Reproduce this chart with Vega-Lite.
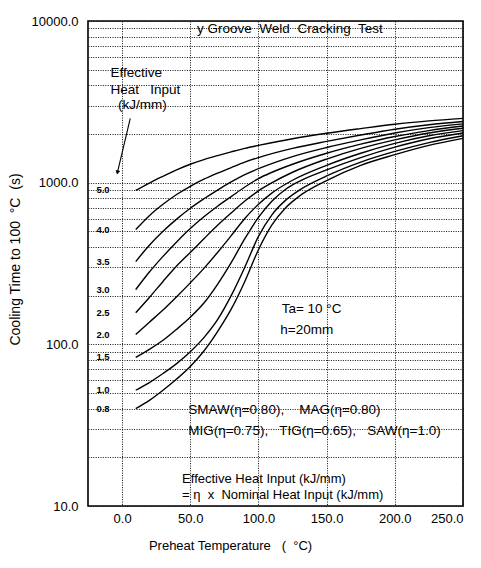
{
  "$schema": "https://vega.github.io/schema/vega-lite/v6.json",
  "width": 375,
  "height": 485,
  "autosize": {"type": "none"},
  "padding": {"left": 88, "top": 21, "right": 18, "bottom": 62},
  "background": "white",
  "config": {
    "font": "Liberation Sans",
    "view": {"stroke": "black", "strokeWidth": 1.6},
    "axis": {"domain": false, "ticks": false, "labelColor": "black", "titleColor": "black", "labelFontSize": 13, "titleFontSize": 13, "titleFontWeight": "normal", "gridColor": "#111111", "gridDash": [1, 1.4], "gridOpacity": 1, "gridWidth": 1}
  },
  "datasets": {
    "curves": [
      {"q": "5.0", "t": 10, "v": 895}, {"q": "5.0", "t": 20, "v": 995}, {"q": "5.0", "t": 30, "v": 1095}, {"q": "5.0", "t": 40, "v": 1200}, {"q": "5.0", "t": 50, "v": 1300}, {"q": "5.0", "t": 60, "v": 1390}, {"q": "5.0", "t": 70, "v": 1470}, {"q": "5.0", "t": 80, "v": 1550}, {"q": "5.0", "t": 90, "v": 1630}, {"q": "5.0", "t": 100, "v": 1700}, {"q": "5.0", "t": 125, "v": 1870}, {"q": "5.0", "t": 150, "v": 2020}, {"q": "5.0", "t": 175, "v": 2160}, {"q": "5.0", "t": 200, "v": 2300}, {"q": "5.0", "t": 225, "v": 2410}, {"q": "5.0", "t": 250, "v": 2500},
      {"q": "4.0", "t": 10, "v": 513}, {"q": "4.0", "t": 20, "v": 625}, {"q": "4.0", "t": 30, "v": 735}, {"q": "4.0", "t": 40, "v": 845}, {"q": "4.0", "t": 50, "v": 950}, {"q": "4.0", "t": 60, "v": 1050}, {"q": "4.0", "t": 70, "v": 1145}, {"q": "4.0", "t": 80, "v": 1240}, {"q": "4.0", "t": 90, "v": 1340}, {"q": "4.0", "t": 100, "v": 1430}, {"q": "4.0", "t": 125, "v": 1630}, {"q": "4.0", "t": 150, "v": 1800}, {"q": "4.0", "t": 175, "v": 1970}, {"q": "4.0", "t": 200, "v": 2140}, {"q": "4.0", "t": 225, "v": 2280}, {"q": "4.0", "t": 250, "v": 2390},
      {"q": "3.5", "t": 10, "v": 325}, {"q": "3.5", "t": 20, "v": 410}, {"q": "3.5", "t": 30, "v": 500}, {"q": "3.5", "t": 40, "v": 595}, {"q": "3.5", "t": 50, "v": 695}, {"q": "3.5", "t": 60, "v": 795}, {"q": "3.5", "t": 70, "v": 900}, {"q": "3.5", "t": 80, "v": 1010}, {"q": "3.5", "t": 90, "v": 1120}, {"q": "3.5", "t": 100, "v": 1220}, {"q": "3.5", "t": 125, "v": 1450}, {"q": "3.5", "t": 150, "v": 1650}, {"q": "3.5", "t": 175, "v": 1840}, {"q": "3.5", "t": 200, "v": 2030}, {"q": "3.5", "t": 225, "v": 2190}, {"q": "3.5", "t": 250, "v": 2310},
      {"q": "3.0", "t": 10, "v": 218}, {"q": "3.0", "t": 20, "v": 280}, {"q": "3.0", "t": 30, "v": 350}, {"q": "3.0", "t": 40, "v": 430}, {"q": "3.0", "t": 50, "v": 520}, {"q": "3.0", "t": 60, "v": 615}, {"q": "3.0", "t": 70, "v": 715}, {"q": "3.0", "t": 80, "v": 820}, {"q": "3.0", "t": 90, "v": 940}, {"q": "3.0", "t": 100, "v": 1060}, {"q": "3.0", "t": 110, "v": 1160}, {"q": "3.0", "t": 125, "v": 1300}, {"q": "3.0", "t": 150, "v": 1520}, {"q": "3.0", "t": 175, "v": 1730}, {"q": "3.0", "t": 200, "v": 1930}, {"q": "3.0", "t": 225, "v": 2100}, {"q": "3.0", "t": 250, "v": 2240},
      {"q": "2.5", "t": 10, "v": 157}, {"q": "2.5", "t": 20, "v": 195}, {"q": "2.5", "t": 30, "v": 245}, {"q": "2.5", "t": 40, "v": 305}, {"q": "2.5", "t": 50, "v": 370}, {"q": "2.5", "t": 60, "v": 450}, {"q": "2.5", "t": 70, "v": 545}, {"q": "2.5", "t": 80, "v": 650}, {"q": "2.5", "t": 90, "v": 770}, {"q": "2.5", "t": 100, "v": 890}, {"q": "2.5", "t": 110, "v": 1000}, {"q": "2.5", "t": 125, "v": 1160}, {"q": "2.5", "t": 150, "v": 1400}, {"q": "2.5", "t": 175, "v": 1630}, {"q": "2.5", "t": 200, "v": 1840}, {"q": "2.5", "t": 225, "v": 2030}, {"q": "2.5", "t": 250, "v": 2170},
      {"q": "2.0", "t": 10, "v": 115}, {"q": "2.0", "t": 20, "v": 137}, {"q": "2.0", "t": 30, "v": 163}, {"q": "2.0", "t": 40, "v": 197}, {"q": "2.0", "t": 50, "v": 240}, {"q": "2.0", "t": 60, "v": 295}, {"q": "2.0", "t": 70, "v": 370}, {"q": "2.0", "t": 80, "v": 470}, {"q": "2.0", "t": 90, "v": 600}, {"q": "2.0", "t": 100, "v": 735}, {"q": "2.0", "t": 110, "v": 865}, {"q": "2.0", "t": 125, "v": 1035}, {"q": "2.0", "t": 150, "v": 1280}, {"q": "2.0", "t": 175, "v": 1520}, {"q": "2.0", "t": 200, "v": 1750}, {"q": "2.0", "t": 225, "v": 1950}, {"q": "2.0", "t": 250, "v": 2100},
      {"q": "1.5", "t": 10, "v": 83}, {"q": "1.5", "t": 20, "v": 93}, {"q": "1.5", "t": 30, "v": 106}, {"q": "1.5", "t": 40, "v": 124}, {"q": "1.5", "t": 50, "v": 147}, {"q": "1.5", "t": 60, "v": 180}, {"q": "1.5", "t": 70, "v": 235}, {"q": "1.5", "t": 80, "v": 320}, {"q": "1.5", "t": 90, "v": 450}, {"q": "1.5", "t": 100, "v": 610}, {"q": "1.5", "t": 110, "v": 770}, {"q": "1.5", "t": 120, "v": 910}, {"q": "1.5", "t": 130, "v": 1020}, {"q": "1.5", "t": 150, "v": 1200}, {"q": "1.5", "t": 175, "v": 1430}, {"q": "1.5", "t": 200, "v": 1660}, {"q": "1.5", "t": 225, "v": 1870}, {"q": "1.5", "t": 250, "v": 2030},
      {"q": "1.0", "t": 10, "v": 52}, {"q": "1.0", "t": 20, "v": 58}, {"q": "1.0", "t": 30, "v": 66}, {"q": "1.0", "t": 40, "v": 76}, {"q": "1.0", "t": 50, "v": 90}, {"q": "1.0", "t": 60, "v": 110}, {"q": "1.0", "t": 70, "v": 142}, {"q": "1.0", "t": 80, "v": 200}, {"q": "1.0", "t": 90, "v": 300}, {"q": "1.0", "t": 100, "v": 465}, {"q": "1.0", "t": 110, "v": 635}, {"q": "1.0", "t": 120, "v": 780}, {"q": "1.0", "t": 130, "v": 900}, {"q": "1.0", "t": 150, "v": 1100}, {"q": "1.0", "t": 175, "v": 1340}, {"q": "1.0", "t": 200, "v": 1560}, {"q": "1.0", "t": 225, "v": 1770}, {"q": "1.0", "t": 250, "v": 1950},
      {"q": "0.8", "t": 10, "v": 40}, {"q": "0.8", "t": 20, "v": 45}, {"q": "0.8", "t": 30, "v": 52}, {"q": "0.8", "t": 40, "v": 61}, {"q": "0.8", "t": 50, "v": 73}, {"q": "0.8", "t": 60, "v": 91}, {"q": "0.8", "t": 70, "v": 120}, {"q": "0.8", "t": 80, "v": 165}, {"q": "0.8", "t": 90, "v": 245}, {"q": "0.8", "t": 100, "v": 385}, {"q": "0.8", "t": 110, "v": 550}, {"q": "0.8", "t": 120, "v": 700}, {"q": "0.8", "t": 130, "v": 825}, {"q": "0.8", "t": 150, "v": 1030}, {"q": "0.8", "t": 175, "v": 1280}, {"q": "0.8", "t": 200, "v": 1490}, {"q": "0.8", "t": 225, "v": 1700}, {"q": "0.8", "t": 250, "v": 1880}
    ],
    "qlabels": [
      {"t": -14, "v": 895, "label": "5.0"}, {"t": -14, "v": 513, "label": "4.0"}, {"t": -14, "v": 325, "label": "3.5"},
      {"t": -14, "v": 218, "label": "3.0"}, {"t": -14, "v": 157, "label": "2.5"}, {"t": -14, "v": 115, "label": "2.0"},
      {"t": -14, "v": 83, "label": "1.5"}, {"t": -14, "v": 52, "label": "1.0"}, {"t": -14, "v": 40, "label": "0.8"}
    ],
    "notes": [
      {"t": 55, "v": 8900, "label": "y Groove\u00a0 Weld\u00a0 Cracking\u00a0 Test"},
      {"t": -8.5, "v": 4745, "label": "Effective"},
      {"t": -8.5, "v": 3724, "label": "Heat\u00a0\u00a0 Input"},
      {"t": -3, "v": 3006, "label": "(kJ/mm)"},
      {"t": 117, "v": 166, "label": "Ta= 10 °C"},
      {"t": 116, "v": 122, "label": "h=20mm"},
      {"t": 48.5, "v": 39, "label": "SMAW(η=0.80),\u00a0\u00a0\u00a0 MAG(η=0.80)"},
      {"t": 48.5, "v": 29, "label": "MIG(η=0.75),\u00a0\u00a0 TIG(η=0.65),\u00a0\u00a0 SAW(η=1.0)"}
    ],
    "notes2": [
      {"t": 44, "v": 14.7, "label": "Effective Heat Input (kJ/mm)"},
      {"t": 44, "v": 11.7, "label": "= η\u00a0 x\u00a0 Nominal Heat Input (kJ/mm)"}
    ],
    "arrow": [{"t": 6, "v": 2495, "t2": -3.4, "v2": 1156}]
  },
  "encoding": {
    "x": {"field": "t", "type": "quantitative", "scale": {"domain": [-25, 250], "nice": false, "zero": false},
      "axis": {"title": "Preheat Temperature\u00a0\u00a0 (\u00a0 °C)", "values": [0, 50, 100, 150, 200, 250], "format": ".1f", "grid": true, "labelPadding": 6, "titleX": 142, "titleY": 33}},
    "y": {"field": "v", "type": "quantitative", "scale": {"type": "log", "domain": [10, 10000], "nice": false},
      "axis": {"title": "Cooling Time to 100\u00a0 °C\u00a0 (s)", "titleFontSize": 14, "values": [10, 20, 30, 40, 50, 60, 70, 80, 90, 100, 200, 300, 400, 500, 600, 700, 800, 900, 1000, 2000, 3000, 4000, 5000, 6000, 7000, 8000, 9000, 10000],
        "labelExpr": "datum.value == 10 || datum.value == 100 || datum.value == 1000 || datum.value == 10000 ? format(datum.value, '.1f') : ''",
        "grid": true, "labelPadding": 10, "titleX": -66, "titleY": 238}}
  },
  "layer": [
    {"data": {"name": "curves"}, "mark": {"type": "line", "color": "black", "strokeWidth": 1.4, "interpolate": "monotone"},
      "encoding": {"detail": {"field": "q"}}},
    {"data": {"name": "qlabels"}, "mark": {"type": "text", "fontSize": 9.5, "fontWeight": "bold", "align": "center", "baseline": "middle", "color": "black"},
      "encoding": {"text": {"field": "label"}}},
    {"data": {"name": "notes"}, "mark": {"type": "text", "fontSize": 13.5, "align": "left", "baseline": "middle", "color": "black"},
      "encoding": {"text": {"field": "label"}}},
    {"data": {"name": "notes2"}, "mark": {"type": "text", "fontSize": 13, "align": "left", "baseline": "middle", "color": "black"},
      "encoding": {"text": {"field": "label"}}},
    {"data": {"name": "arrow"}, "mark": {"type": "rule", "color": "black", "strokeWidth": 1.1},
      "encoding": {"x2": {"field": "t2"}, "y2": {"field": "v2"}}},
    {"data": {"name": "arrow"}, "mark": {"type": "point", "shape": "triangle-down", "filled": true, "color": "black", "size": 22, "angle": 13.5, "opacity": 1},
      "encoding": {"x": {"field": "t2", "type": "quantitative"}, "y": {"field": "v2", "type": "quantitative"}}}
  ]
}
